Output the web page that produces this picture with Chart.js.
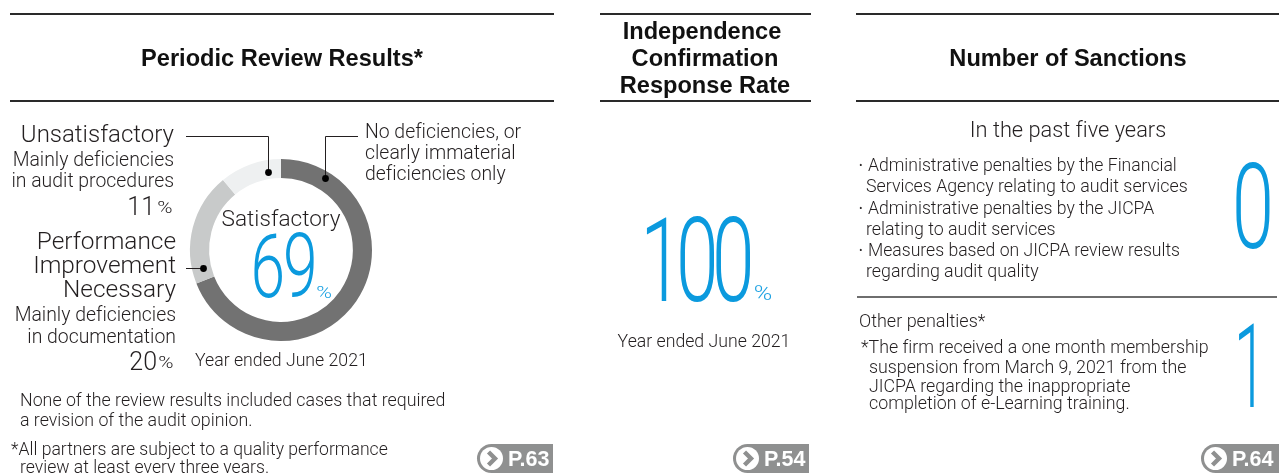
<!DOCTYPE html>
<html>
<head>
<meta charset="utf-8">
<title>Audit quality indicators</title>
<script src="https://cdn.jsdelivr.net/npm/chart.js@4/dist/chart.umd.min.js"></script>
<style>
  html, body { margin: 0; background: #fff; }
  #page { position: relative; width: 1285px; height: 473px; overflow: hidden; font-family: Roboto, sans-serif; font-weight: 300; color: #231f20; font-variant-ligatures: none; }
  #review-chart { position: absolute; left: 0; top: 0; }
  .t { position: absolute; white-space: nowrap; line-height: 1; transform: translateY(-50%); }
  .r { transform: translate(-100%, -50%); }
  .c { transform: translate(-50%, -50%); }
  .title { font-family: "Liberation Sans", sans-serif; font-weight: 700; font-size: 23.6px; color: #111; }
  .big { color: #0b9ade; font-weight: 300; transform-origin: center; }
  .rule { position: absolute; height: 2px; background: #2a2a2a; }
  .badge { position: absolute; top: 444px; height: 29px; background: #8f9090; border-radius: 15px 0 0 15px; color: #fff; font: 700 21.5px/30px "Liberation Sans", sans-serif; }
  .badge svg { position: absolute; left: 2px; top: 2px; }
  .badge span { position: absolute; left: 31px; top: 0; }
</style>
</head>
<body>
<div id="page">
  <canvas id="review-chart" width="1285" height="473"></canvas>
</div>
<script>
var categories = ["No deficiencies, or clearly immaterial deficiencies only", "Performance Improvement Necessary", "Unsatisfactory"];
var reviewShares = [69, 20, 11];
var sliceColors = ["#727272", "#c8caca", "#eef0f1"];
var responseRate = 100;
var sanctionCounts = [0, 1];
var pageRefs = ["P.63", "P.54", "P.64"];

var page = document.getElementById("page");

function put(text, x, y, size, cls, color) {
  var el = document.createElement("div");
  el.className = "t " + (cls || "");
  el.textContent = text;
  el.style.left = x + "px";
  el.style.top = y + "px";
  el.style.fontSize = size + "px";
  if (color) el.style.color = color;
  page.appendChild(el);
  return el;
}

function rule(x, y, w, color) {
  var el = document.createElement("div");
  el.className = "rule";
  el.style.left = x + "px";
  el.style.top = y + "px";
  el.style.width = w + "px";
  if (color) el.style.background = color;
  page.appendChild(el);
}

function bigNumber(text, x, y, size, squeeze, spacing) {
  var el = put(text, x, y, size, "big c");
  el.style.letterSpacing = spacing + "px";
  el.style.transform = "translate(-50%, -50%) scaleX(" + squeeze + ")";
}

// the percent sign is set wider than the font draws it
function percent(x, y, size, color) {
  var el = put("%", x, y, size, "c", color);
  el.style.transform = "translate(-50%, -50%) scaleX(1.25)";
}

function badge(text, x, w) {
  var el = document.createElement("div");
  el.className = "badge";
  el.style.left = x + "px";
  el.style.width = w + "px";
  el.innerHTML = '<svg width="25" height="25" viewBox="0 0 25 25"><circle cx="12.5" cy="12.5" r="11.5" fill="#fff"/><path d="M9.5 6 L16 12.5 L9.5 19" fill="none" stroke="#8f9090" stroke-width="4.4"/></svg><span>' + text + '</span>';
  page.appendChild(el);
}

// header rules
rule(10, 13, 544); rule(10, 100, 544);
rule(600, 13, 211); rule(600, 100, 211);
rule(856, 13, 423); rule(856, 100, 423);

put("Periodic Review Results*", 282, 59, 23.6, "title c");
put("Independence", 702, 32, 23.6, "title c");
put("Confirmation", 705, 59, 23.6, "title c");
put("Response Rate", 705, 86, 23.6, "title c");
put("Number of Sanctions", 1068, 59, 23.6, "title c");

// left column, donut labels
put("Unsatisfactory", 174, 134, 24, "r");
put("Mainly deficiencies", 174, 160, 19.4, "r");
put("in audit procedures", 174, 181, 19.4, "r");
put(reviewShares[2], 155, 206, 25, "r");
percent(165, 208, 16.5);
put("Performance", 176, 241, 24.4, "r");
put("Improvement", 176, 265, 24.4, "r");
put("Necessary", 176, 289, 24.4, "r");
put("Mainly deficiencies", 176, 315, 19.4, "r");
put("in documentation", 176, 337, 19.4, "r");
put(reviewShares[1], 157, 361, 25, "r");
percent(166, 363, 16.5);
put("No deficiencies, or", 365, 132, 19.4);
put("clearly immaterial", 365, 153, 19.4);
put("deficiencies only", 365, 174, 19.4);
put("Satisfactory", 281, 219, 22.6, "c");
bigNumber(reviewShares[0], 283, 266, 89, 0.7, -3);
percent(324, 292, 17, "#1ba1e2");
put("Year ended June 2021", 195, 361, 17.7);

put("None of the review results included cases that required", 20, 400, 17.8);
put("a revision of the audit opinion.", 20, 420, 17.8);
put("*All partners are subject to a quality performance", 11, 450, 17.6);
put("review at least every three years.", 20, 468, 17.6);

// middle column
bigNumber(responseRate, 694, 261, 116, 0.66, -10);
percent(763, 293, 20, "#1ba1e2");
put("Year ended June 2021", 704, 342, 17.7, "c");

// right column
put("In the past five years", 1068, 130, 21.8, "c");
put("•", 859, 165, 11);
put("Administrative penalties by the Financial", 868, 166, 17.6);
put("Services Agency relating to audit services", 866, 186, 17.8);
put("•", 859, 208, 11);
put("Administrative penalties by the JICPA", 868, 209, 17.6);
put("relating to audit services", 866, 229, 17.8);
put("•", 859, 250, 11);
put("Measures based on JICPA review results", 868, 251, 17.6);
put("regarding audit quality", 866, 271, 17.8);
bigNumber(sanctionCounts[0], 1253, 208, 118, 0.64, 0);
rule(857, 296, 420, "#6e6e6e");
put("Other penalties*", 859, 321, 18);
put("*The firm received a one month membership", 861, 347, 17.8);
put("suspension from March 9, 2021 from the", 869, 367, 17.8);
put("JICPA regarding the inappropriate", 869, 386, 17.8);
put("completion of e-Learning training.", 869, 403, 17.8);
bigNumber(sanctionCounts[1], 1250, 367, 116, 0.5, 0);

badge(pageRefs[0], 477, 76);
badge(pageRefs[1], 733, 76);
badge(pageRefs[2], 1201, 78);

// leader lines from the labels to the ring
var leaderLines = {
  id: "leaderLines",
  afterDatasetsDraw: function (chart) {
    var ctx = chart.ctx;
    var paths = [
      [[186, 136], [268, 136], [268, 172]],
      [[358, 136], [325, 136], [325, 178]],
      [[186, 268], [203, 268]]
    ];
    ctx.save();
    ctx.strokeStyle = "#231f20";
    ctx.fillStyle = "#000";
    ctx.lineWidth = 1;
    paths.forEach(function (p) {
      ctx.beginPath();
      p.forEach(function (pt, i) {
        if (i === 0) ctx.moveTo(pt[0], pt[1] + 0.5);
        else ctx.lineTo(pt[0] + 0.5, pt[1] + 0.5);
      });
      ctx.stroke();
      var end = p[p.length - 1];
      ctx.beginPath();
      ctx.arc(end[0] + 0.5, end[1] + 0.5, 3.4, 0, Math.PI * 2);
      ctx.fill();
    });
    ctx.restore();
  }
};

var ctx = document.getElementById("review-chart");
var myChart = new Chart(ctx, {
  type: "doughnut",
  data: {
    labels: categories,
    datasets: [
      {
        data: reviewShares,
        backgroundColor: sliceColors,
        borderWidth: 0
      }
    ]
  },
  options: {
    responsive: false,
    animation: false,
    cutout: "79%",
    layout: { padding: { left: 190, right: 913, top: 159, bottom: 132 } },
    plugins: {
      legend: { display: false },
      title: { display: false },
      tooltip: { enabled: false }
    }
  },
  plugins: [leaderLines]
});
</script>
</body>
</html>
